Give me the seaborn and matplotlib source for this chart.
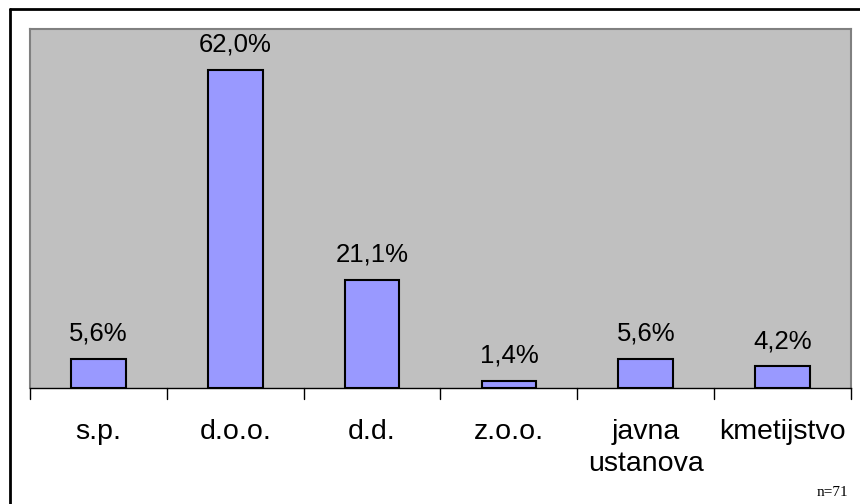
import matplotlib.pyplot as plt
import seaborn as sns
import pandas as pd
from matplotlib.lines import Line2D

categories = ['s.p.', 'd.o.o.', 'd.d.', 'z.o.o.', 'javna\nustanova', 'kmetijstvo']
shares = [5.6, 62.0, 21.1, 1.4, 5.6, 4.2]
sample_note = 'n=71'

df = pd.DataFrame({'oblika': categories, 'delez': shares})

sns.set_theme(style='white')
plt.rcParams['font.family'] = ['Liberation Sans', 'DejaVu Sans']
plt.rcParams['text.color'] = 'black'
plt.rcParams['xtick.color'] = 'black'

W, H = 860, 504
fig = plt.figure(figsize=(W / 100, H / 100), dpi=100)
ax = fig.add_axes([30 / W, (H - 388) / H, 821 / W, 359 / H])

sns.barplot(data=df, x='oblika', y='delez', color='#9999FF', width=0.4,
            edgecolor='black', linewidth=1.5, saturation=1, ax=ax)

ax.set_facecolor('#C0C0C0')
ax.set_ylim(0, 70)
ax.set_xlim(-0.5, len(categories) - 0.5)
ax.set_xlabel('')
ax.set_ylabel('')
ax.set_yticks([])

for i, v in enumerate(shares):
    ax.text(i, v + 2.6, f'{v:.1f}%'.replace('.', ','), ha='center', va='bottom',
            fontsize=18.5, color='black')

# category labels and boundary ticks
ax.set_xticks(range(len(categories)))
ax.set_xticklabels(categories, fontsize=20.5, linespacing=1.32, va='top')
ax.tick_params(axis='x', length=0, pad=22, colors='black')
for b in [i - 0.5 for i in range(len(categories) + 1)]:
    ax.plot([b, b], [0, -0.03], transform=ax.get_xaxis_transform(), color='black',
            lw=1, clip_on=False)

for side in ['left', 'top', 'right']:
    ax.spines[side].set_color('#808080')
    ax.spines[side].set_linewidth(1.5)
ax.spines['bottom'].set_color('black')
ax.spines['bottom'].set_linewidth(1)

# outer chart frame
fig.add_artist(Line2D([10 / W, 10 / W], [0, 1 - 9 / H], color='black', lw=2))
fig.add_artist(Line2D([10 / W, 1], [1 - 9 / H, 1 - 9 / H], color='black', lw=2))

fig.text(848 / W, 1 - 493 / H, sample_note, family='Liberation Serif', fontsize=11,
         ha='right', va='center')

fig.savefig('out.png', dpi=100)
